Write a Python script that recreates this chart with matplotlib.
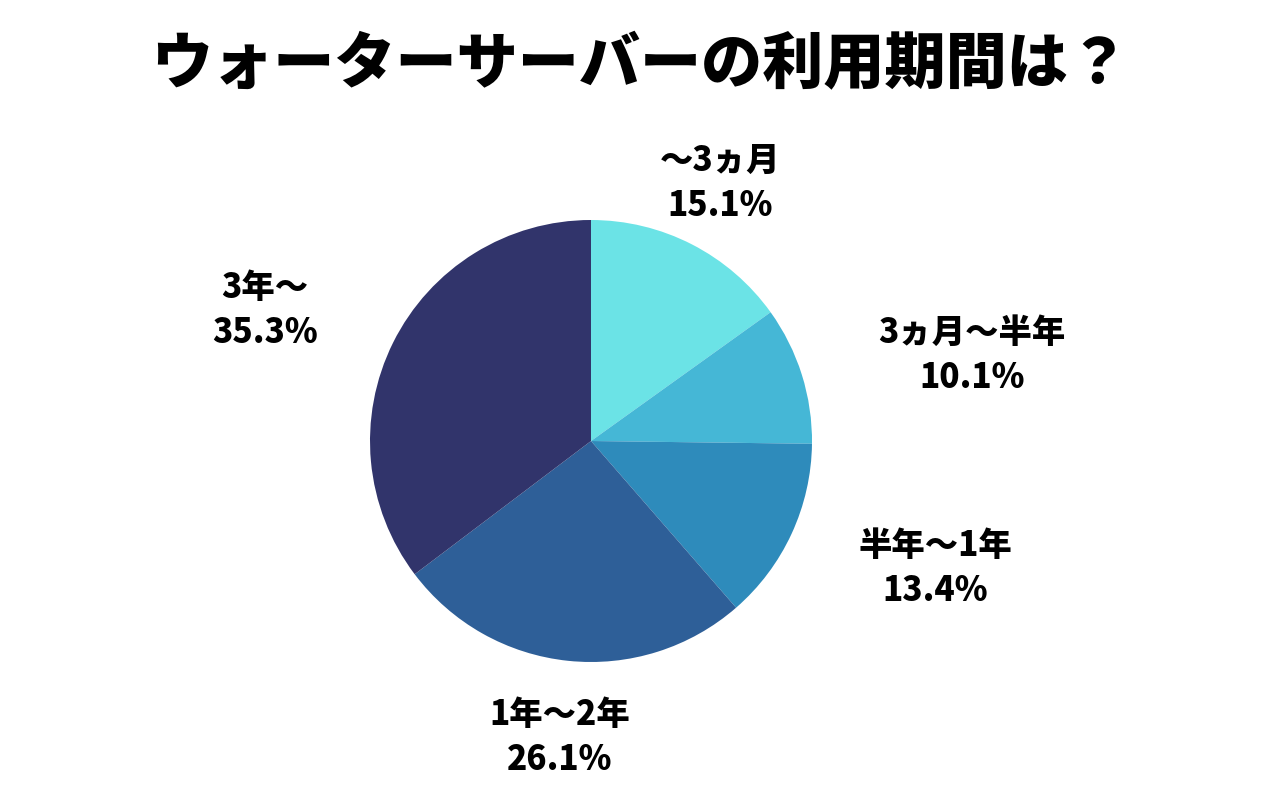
import matplotlib.pyplot as plt

plt.rcParams['font.family'] = ['Noto Sans CJK JP', 'DejaVu Sans']

labels = ["～3ヵ月", "3ヵ月～半年", "半年～1年", "1年～2年", "3年～"]
shares = [15.1, 10.1, 13.4, 26.1, 35.3]
colors = ["#6BE3E6", "#45B7D6", "#2E8BBB", "#2E5F98", "#31346B"]
# label centres in pixel coords (y from top)
label_pos = [(720, 183), (972, 355), (935, 568), (560, 737), (265, 310)]

fig = plt.figure(figsize=(12.8, 8), dpi=100)
ax = fig.add_axes([0, 0, 1, 1])

ax.pie(shares, colors=colors, startangle=90, counterclock=False,
       center=(591, 800 - 441), radius=221, frame=True)
ax.set_xlim(0, 1280)
ax.set_ylim(0, 800)
ax.set_aspect('equal')
ax.axis('off')

for lab, val, (x, y) in zip(labels, shares, label_pos):
    ax.text(x, 800 - y, f"{lab}\n{val}%", ha='center', va='center',
            fontsize=24, fontweight='black', linespacing=1.35)

fig.text(0.5, 1 - 65 / 800, "ウォーターサーバーの利用期間は？", ha='center', va='center',
         fontsize=44, fontweight='black')

fig.savefig("out.png", dpi=100)
